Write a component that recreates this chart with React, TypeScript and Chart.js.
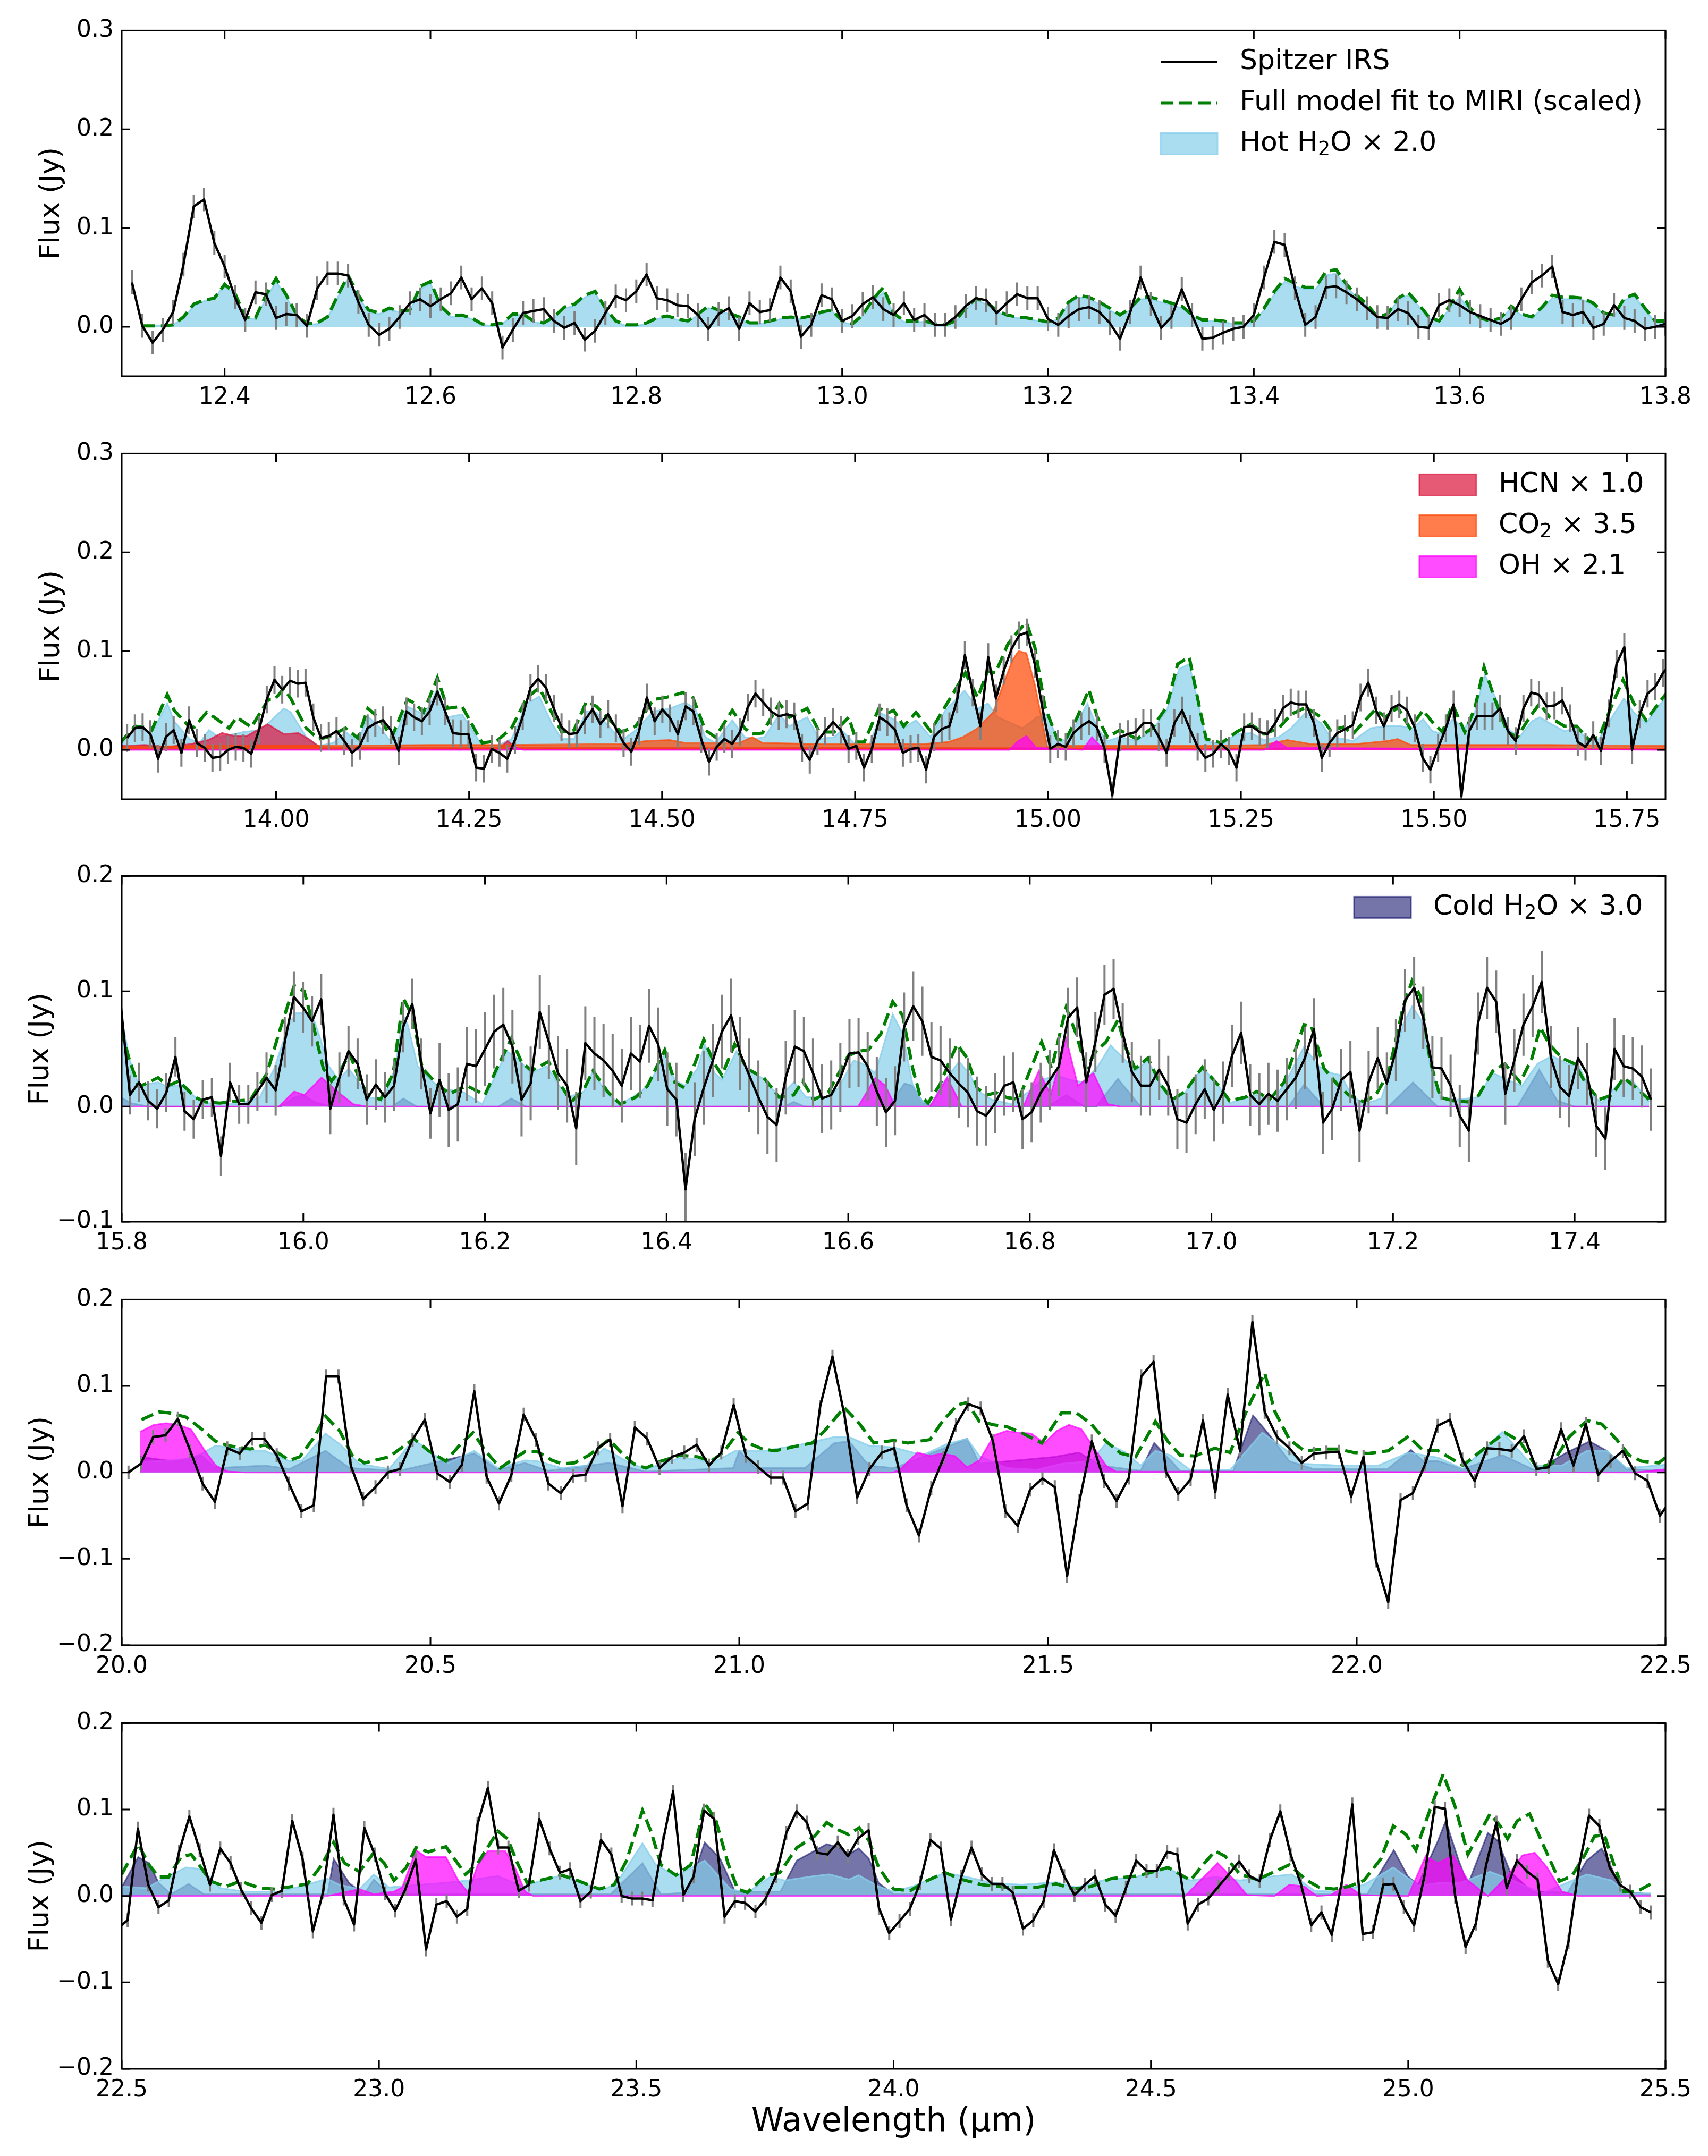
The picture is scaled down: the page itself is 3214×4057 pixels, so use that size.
import React, { useEffect, useRef } from "react";
import { Chart, registerables } from "chart.js";

Chart.register(...registerables);

const FONT = "'DejaVu Sans', 'Liberation Sans', sans-serif";

// ---------------- Panel 1 (12.3 - 13.8 um) ----------------
const IRS1_START = 12.31;
const IRS1_STEP = 0.01;
const IRS1_FLUX = [
  0.045, 0.001, -0.016, -0.003, 0.015, 0.063, 0.122, 0.129, 0.085, 0.061,
  0.030, 0.007, 0.035, 0.033, 0.009, 0.013, 0.012, 0.001, 0.039, 0.054,
  0.054, 0.052, 0.025, 0.002, -0.008, -0.002, 0.010, 0.024, 0.028, 0.021,
  0.028, 0.034, 0.050, 0.028, 0.039, 0.024, -0.021, -0.003, 0.014, 0.016,
  0.018, 0.006, -0.001, 0.004, -0.013, -0.004, 0.014, 0.031, 0.027, 0.036,
  0.053, 0.029, 0.027, 0.022, 0.021, 0.012, -0.002, 0.013, 0.019, -0.002,
  0.024, 0.015, 0.017, 0.050, 0.036, -0.010, 0.002, 0.032, 0.028, 0.006,
  0.011, 0.023, 0.030, 0.018, 0.012, 0.024, 0.007, 0.012, 0.002, 0.002,
  0.010, 0.021, 0.029, 0.027, 0.014, 0.024, 0.033, 0.029, 0.029, 0.008,
  0.002, 0.011, 0.018, 0.020, 0.015, 0.004, -0.012, 0.015, 0.050, 0.023,
  -0.001, 0.010, 0.038, 0.012, -0.012, -0.011, -0.006, -0.002, 0.000, 0.012,
  0.050, 0.086, 0.083, 0.039, 0.002, 0.010, 0.040, 0.041, 0.035, 0.028,
  0.019, 0.010, 0.009, 0.018, 0.014, 0.000, -0.001, 0.022, 0.027, 0.022,
  0.015, 0.011, 0.007, 0.003, 0.009, 0.028, 0.045, 0.052, 0.061, 0.015,
  0.012, 0.015, -0.001, 0.003, 0.022, 0.009, 0.006, -0.002, 0.000, 0.003,
];
const ERR1 = [[99, 0.012]];
const MODEL1_START = 12.32;
const MODEL1_STEP = 0.01;
const MODEL1_FLUX = [
  0.001, 0.001, 0.001, 0.002, 0.010, 0.023, 0.027, 0.029, 0.043, 0.034,
  0.010, 0.009, 0.032, 0.049, 0.032, 0.012, 0.003, 0.004, 0.010, 0.032,
  0.052, 0.032, 0.017, 0.014, 0.019, 0.016, 0.017, 0.041, 0.046, 0.021,
  0.011, 0.012, 0.009, 0.003, 0.002, 0.004, 0.013, 0.013, 0.006, 0.004,
  0.010, 0.020, 0.023, 0.032, 0.036, 0.019, 0.006, 0.002, 0.002, 0.004,
  0.009, 0.011, 0.008, 0.006, 0.013, 0.021, 0.017, 0.014, 0.010, 0.004,
  0.004, 0.006, 0.009, 0.010, 0.009, 0.011, 0.015, 0.017, 0.006, 0.003,
  0.012, 0.028, 0.040, 0.014, 0.006, 0.006, 0.006, 0.003, 0.002, 0.006,
  0.019, 0.029, 0.025, 0.017, 0.012, 0.010, 0.009, 0.007, 0.005, 0.009,
  0.025, 0.032, 0.030, 0.025, 0.019, 0.012, 0.019, 0.030, 0.030, 0.027,
  0.024, 0.021, 0.012, 0.007, 0.007, 0.006, 0.004, 0.004, 0.006, 0.019,
  0.036, 0.049, 0.044, 0.040, 0.040, 0.056, 0.058, 0.043, 0.032, 0.023,
  0.010, 0.013, 0.029, 0.035, 0.023, 0.010, 0.006, 0.021, 0.038, 0.019,
  0.009, 0.006, 0.009, 0.021, 0.013, 0.010, 0.020, 0.032, 0.030, 0.030,
  0.029, 0.024, 0.014, 0.012, 0.029, 0.033, 0.019, 0.006, 0.006,
];
const HOT1_FLUX = [
  0.001, 0.001, 0.001, 0.002, 0.009, 0.021, 0.026, 0.029, 0.042, 0.032,
  0.009, 0.008, 0.028, 0.046, 0.030, 0.011, 0.002, 0.003, 0.009, 0.030,
  0.049, 0.030, 0.015, 0.013, 0.017, 0.015, 0.016, 0.038, 0.044, 0.019,
  0.010, 0.011, 0.008, 0.002, 0.001, 0.003, 0.012, 0.012, 0.005, 0.003,
  0.009, 0.019, 0.021, 0.030, 0.034, 0.017, 0.005, 0.001, 0.001, 0.003,
  0.008, 0.010, 0.007, 0.005, 0.012, 0.019, 0.016, 0.013, 0.009, 0.003,
  0.003, 0.005, 0.008, 0.009, 0.008, 0.010, 0.014, 0.016, 0.005, 0.002,
  0.011, 0.026, 0.035, 0.013, 0.005, 0.005, 0.005, 0.002, 0.001, 0.005,
  0.017, 0.027, 0.023, 0.015, 0.011, 0.009, 0.008, 0.006, 0.004, 0.008,
  0.023, 0.030, 0.028, 0.023, 0.017, 0.011, 0.017, 0.028, 0.028, 0.025,
  0.022, 0.019, 0.011, 0.006, 0.006, 0.005, 0.003, 0.003, 0.005, 0.017,
  0.033, 0.046, 0.041, 0.038, 0.038, 0.052, 0.054, 0.040, 0.030, 0.021,
  0.009, 0.012, 0.027, 0.032, 0.021, 0.009, 0.005, 0.018, 0.030, 0.017,
  0.008, 0.005, 0.008, 0.019, 0.012, 0.009, 0.018, 0.029, 0.028, 0.028,
  0.027, 0.022, 0.013, 0.011, 0.027, 0.031, 0.017, 0.005, 0.005,
];

// ---------------- Panel 2 (13.8 - 15.8 um) ----------------
const IRS2_START = 13.807;
const IRS2_STEP = 0.01005;
const IRS2_FLUX = [
  0.012, 0.022, 0.023, 0.016, -0.009, 0.013, 0.020, -0.003, 0.030, 0.007,
  0.002, -0.008, -0.007, 0.000, 0.003, 0.002, -0.004, 0.020, 0.051, 0.071,
  0.061, 0.070, 0.067, 0.068, 0.033, 0.012, 0.014, 0.019, 0.009, -0.003,
  0.004, 0.022, 0.027, 0.030, 0.020, -0.001, 0.039, 0.033, 0.029, 0.039,
  0.059, 0.039, 0.017, 0.016, 0.016, -0.018, -0.019, 0.001, -0.003, -0.009,
  0.010, 0.034, 0.063, 0.072, 0.063, 0.042, 0.023, 0.016, 0.017, 0.030,
  0.041, 0.026, 0.036, 0.022, 0.007, -0.002, 0.019, 0.053, 0.029, 0.041,
  0.032, 0.016, 0.044, 0.039, 0.011, -0.012, 0.003, 0.011, 0.006, 0.018,
  0.043, 0.057, 0.048, 0.039, 0.034, 0.036, 0.034, 0.002, -0.010, 0.009,
  0.019, 0.028, 0.020, 0.001, 0.004, -0.018, 0.001, 0.033, 0.028, 0.020,
  -0.003, 0.001, 0.002, -0.020, 0.013, 0.021, 0.024, 0.051, 0.096, 0.058,
  0.024, 0.094, 0.052, 0.080, 0.102, 0.116, 0.119, 0.087, 0.042, 0.001,
  0.006, 0.003, 0.017, 0.024, 0.029, 0.023, 0.001, -0.046, 0.013, 0.016,
  0.018, 0.027, 0.027, 0.013, -0.003, 0.027, 0.040, 0.021, 0.003, -0.008,
  -0.004, 0.006, -0.001, -0.018, 0.023, 0.024, 0.018, 0.016, 0.027, 0.042,
  0.048, 0.046, 0.046, 0.027, -0.008, 0.007, 0.017, 0.021, 0.025, 0.053,
  0.068, 0.040, 0.024, 0.042, 0.046, 0.040, 0.022, -0.008, -0.020, 0.002,
  0.022, 0.046, -0.047, 0.019, 0.034, 0.034, 0.034, 0.042, 0.019, 0.009,
  0.042, 0.058, 0.056, 0.044, 0.045, 0.050, 0.032, 0.008, 0.003, 0.015,
  -0.001, 0.037, 0.087, 0.104, 0.000, 0.036, 0.057, 0.064, 0.078, 0.087,
];
const ERR2 = [[99, 0.014]];
const MODEL2 = [
  [13.798, 0.007], [13.817, 0.024], [13.828, 0.023], [13.839, 0.020], [13.859, 0.056], [13.868, 0.040],
  [13.888, 0.023], [13.894, 0.023], [13.910, 0.038], [13.920, 0.033], [13.939, 0.022], [13.949, 0.033],
  [13.968, 0.023], [13.990, 0.051], [13.998, 0.051], [14.010, 0.062], [14.019, 0.052], [14.039, 0.022],
  [14.055, 0.011], [14.068, 0.013], [14.090, 0.022], [14.106, 0.012], [14.119, 0.042], [14.132, 0.033],
  [14.150, 0.013], [14.170, 0.051], [14.180, 0.047], [14.191, 0.038], [14.209, 0.073], [14.222, 0.042],
  [14.241, 0.044], [14.248, 0.034], [14.267, 0.007], [14.286, 0.009], [14.305, 0.022], [14.325, 0.053],
  [14.341, 0.063], [14.357, 0.038], [14.370, 0.018], [14.386, 0.020], [14.402, 0.049], [14.415, 0.044],
  [14.431, 0.031], [14.447, 0.018], [14.466, 0.024], [14.489, 0.051], [14.505, 0.053], [14.527, 0.058],
  [14.540, 0.053], [14.556, 0.020], [14.569, 0.013], [14.591, 0.040], [14.607, 0.022], [14.617, 0.016],
  [14.630, 0.017], [14.652, 0.047], [14.665, 0.033], [14.688, 0.042], [14.704, 0.018], [14.723, 0.018],
  [14.742, 0.033], [14.752, 0.008], [14.762, 0.008], [14.781, 0.042], [14.794, 0.038], [14.800, 0.040],
  [14.813, 0.024], [14.829, 0.038], [14.848, 0.019], [14.867, 0.044], [14.893, 0.078], [14.909, 0.053],
  [14.922, 0.080], [14.932, 0.078], [14.948, 0.107], [14.961, 0.120], [14.972, 0.129], [14.983, 0.104],
  [14.996, 0.044], [15.012, 0.011], [15.022, 0.009], [15.038, 0.033], [15.053, 0.061], [15.064, 0.033],
  [15.077, 0.013], [15.093, 0.020], [15.115, 0.011], [15.135, 0.022], [15.154, 0.044], [15.168, 0.087],
  [15.183, 0.094], [15.196, 0.044], [15.205, 0.011], [15.225, 0.007], [15.244, 0.018], [15.263, 0.026],
  [15.280, 0.016], [15.299, 0.022], [15.315, 0.036], [15.334, 0.043], [15.354, 0.033], [15.366, 0.020],
  [15.383, 0.023], [15.395, 0.016], [15.424, 0.041], [15.437, 0.033], [15.453, 0.043], [15.469, 0.022],
  [15.486, 0.040], [15.498, 0.028], [15.511, 0.018], [15.524, 0.046], [15.540, 0.018], [15.553, 0.042],
  [15.565, 0.084], [15.579, 0.051], [15.595, 0.018], [15.608, 0.013], [15.624, 0.033], [15.637, 0.047],
  [15.650, 0.033], [15.669, 0.024], [15.685, 0.024], [15.701, 0.010], [15.714, 0.013], [15.730, 0.044],
  [15.745, 0.071], [15.759, 0.047], [15.775, 0.030], [15.791, 0.047], [15.804, 0.060],
];
const HOT2 = [
  [13.798, 0.007], [13.817, 0.021], [13.828, 0.020], [13.839, 0.017], [13.859, 0.047], [13.868, 0.029],
  [13.888, 0.011], [13.901, 0.007], [13.913, 0.020], [13.926, 0.013], [13.946, 0.016], [13.958, 0.018],
  [13.978, 0.020], [13.990, 0.027], [14.010, 0.042], [14.019, 0.038], [14.039, 0.013], [14.055, 0.004],
  [14.074, 0.007], [14.090, 0.018], [14.106, 0.009], [14.119, 0.034], [14.135, 0.022], [14.150, 0.007],
  [14.170, 0.044], [14.183, 0.039], [14.193, 0.036], [14.209, 0.062], [14.222, 0.033], [14.241, 0.036],
  [14.254, 0.020], [14.267, 0.004], [14.286, 0.004], [14.305, 0.011], [14.325, 0.047], [14.341, 0.054],
  [14.357, 0.027], [14.370, 0.011], [14.386, 0.011], [14.402, 0.039], [14.415, 0.038], [14.431, 0.024],
  [14.447, 0.009], [14.466, 0.020], [14.489, 0.039], [14.511, 0.042], [14.530, 0.048], [14.543, 0.042],
  [14.556, 0.013], [14.569, 0.007], [14.591, 0.030], [14.607, 0.013], [14.620, 0.011], [14.633, 0.013],
  [14.652, 0.036], [14.665, 0.024], [14.688, 0.033], [14.704, 0.011], [14.723, 0.013], [14.733, 0.020],
  [14.752, 0.004], [14.768, 0.004], [14.784, 0.037], [14.800, 0.031], [14.813, 0.022], [14.829, 0.030],
  [14.848, 0.013], [14.867, 0.040], [14.892, 0.060], [14.909, 0.042], [14.922, 0.047], [14.935, 0.033],
  [14.967, 0.022], [14.986, 0.033], [14.999, 0.036], [15.012, 0.011], [15.025, 0.009], [15.051, 0.047],
  [15.064, 0.022], [15.077, 0.009], [15.093, 0.013], [15.115, 0.009], [15.135, 0.020], [15.154, 0.040],
  [15.170, 0.082], [15.183, 0.087], [15.196, 0.042], [15.205, 0.009], [15.225, 0.005], [15.244, 0.016],
  [15.263, 0.017], [15.280, 0.010], [15.299, 0.013], [15.315, 0.022], [15.334, 0.038], [15.354, 0.027],
  [15.366, 0.013], [15.383, 0.011], [15.395, 0.009], [15.418, 0.022], [15.437, 0.024], [15.457, 0.024],
  [15.473, 0.022], [15.486, 0.031], [15.498, 0.019], [15.511, 0.016], [15.524, 0.031], [15.540, 0.022],
  [15.553, 0.038], [15.566, 0.076], [15.579, 0.054], [15.598, 0.020], [15.611, 0.013], [15.627, 0.029],
  [15.637, 0.033], [15.650, 0.027], [15.669, 0.019], [15.685, 0.022], [15.701, 0.009], [15.714, 0.011],
  [15.733, 0.036], [15.746, 0.052], [15.759, 0.038], [15.775, 0.027], [15.791, 0.044], [15.804, 0.056],
];
const HCN2 = [
  [13.798, 0.004], [13.83, 0.005], [13.86, 0.003], [13.89, 0.006], [13.912, 0.010], [13.93, 0.017],
  [13.946, 0.014], [13.962, 0.014], [13.989, 0.026], [14.010, 0.016], [14.029, 0.017], [14.042, 0.011],
  [14.058, 0.002], [14.29, 0.002], [14.30, 0.009], [14.31, 0.002], [14.6, 0.002], [15.8, 0.001],
];
const CO2_2 = [
  [13.798, 0.003], [13.90, 0.004], [14.05, 0.004], [14.2, 0.005], [14.3, 0.005], [14.45, 0.006],
  [14.48, 0.009], [14.51, 0.010], [14.53, 0.007], [14.60, 0.007], [14.617, 0.013], [14.63, 0.007],
  [14.70, 0.006], [14.80, 0.006], [14.839, 0.006], [14.871, 0.008], [14.89, 0.013], [14.909, 0.022],
  [14.929, 0.038], [14.941, 0.064], [14.954, 0.091], [14.962, 0.100], [14.972, 0.098], [14.983, 0.066],
  [14.993, 0.027], [14.999, 0.003], [15.02, 0.004], [15.10, 0.004], [15.20, 0.004], [15.28, 0.005],
  [15.31, 0.010], [15.34, 0.006], [15.40, 0.006], [15.44, 0.009], [15.453, 0.011], [15.47, 0.005],
  [15.55, 0.005], [15.65, 0.005], [15.80, 0.004],
];
const OH2 = [
  [13.798, 0.0], [14.30, 0.0], [14.305, 0.003], [14.32, 0.0], [14.95, 0.0], [14.960, 0.008],
  [14.972, 0.014], [14.985, 0.002], [15.045, 0.0], [15.057, 0.013], [15.072, 0.0], [15.28, 0.0],
  [15.296, 0.009], [15.31, 0.002], [15.8, 0.0],
];

// ---------------- Panel 3 (15.8 - 17.5 um) ----------------
const IRS3_START = 15.799;
const IRS3_STEP = 0.01003;
const IRS3_FLUX = [
  0.088, 0.010, 0.021, 0.005, -0.002, 0.012, 0.043, -0.004, -0.011, 0.006,
  0.008, -0.043, 0.021, 0.002, 0.002, 0.013, 0.025, 0.014, 0.056, 0.095,
  0.086, 0.074, 0.093, -0.002, 0.025, 0.048, 0.037, 0.006, 0.019, 0.008,
  0.018, 0.069, 0.089, 0.037, -0.006, 0.023, -0.003, 0.002, 0.037, 0.035,
  0.050, 0.065, 0.071, 0.052, 0.006, 0.020, 0.082, 0.056, 0.029, 0.018,
  -0.019, 0.055, 0.046, 0.040, 0.031, 0.018, 0.046, 0.039, 0.070, 0.054,
  0.015, 0.006, -0.072, -0.011, 0.016, 0.040, 0.065, 0.079, 0.046, 0.027,
  0.008, -0.009, -0.016, 0.025, 0.052, 0.048, 0.029, 0.007, 0.010, 0.025,
  0.046, 0.047, 0.035, 0.013, -0.005, 0.005,
  0.069, 0.087, 0.074, 0.043, 0.040, 0.029, 0.020, 0.012, -0.004, -0.008,
  0.003, 0.018, 0.021, -0.011, -0.005, 0.012, 0.023, 0.035, 0.077, 0.086,
  0.021, 0.056, 0.097, 0.102, 0.064, 0.030, 0.018, 0.018, 0.032, 0.018,
  -0.011, -0.014, 0.002, 0.015, -0.003, 0.012, 0.044, 0.064, 0.010, 0.002,
  0.011, 0.005, 0.015, 0.025, 0.042, 0.067, -0.014, -0.002, 0.023, 0.030,
  -0.021, 0.021, 0.042, 0.020, 0.049, 0.092, 0.103, 0.077, 0.034, 0.033,
  0.018, -0.008, -0.021, 0.072, 0.103, 0.091, 0.011, 0.040, 0.071, 0.087,
  0.108, 0.043, 0.017, 0.009, 0.042, 0.028, -0.017, -0.028, 0.050, 0.035,
  0.033, 0.026, 0.006,
];
const ERR3 = [[15.95, 0.017], [16.15, 0.022], [16.55, 0.032], [16.75, 0.03], [17.0, 0.026], [99, 0.027]];
const MODEL3 = [
  [15.799, 0.067], [15.809, 0.039], [15.819, 0.017], [15.840, 0.025], [15.851, 0.018], [15.863, 0.022],
  [15.881, 0.008], [15.892, 0.004], [15.908, 0.003], [15.930, 0.005], [15.942, 0.006], [15.960, 0.029],
  [15.976, 0.071], [15.990, 0.105], [16.001, 0.100], [16.012, 0.067], [16.022, 0.033], [16.031, 0.022],
  [16.042, 0.033], [16.051, 0.046], [16.061, 0.025], [16.071, 0.010], [16.085, 0.006], [16.099, 0.029],
  [16.110, 0.094], [16.121, 0.077], [16.131, 0.033], [16.148, 0.019], [16.161, 0.011], [16.180, 0.018],
  [16.200, 0.010], [16.213, 0.033], [16.229, 0.059], [16.240, 0.039], [16.251, 0.031], [16.270, 0.039],
  [16.284, 0.018], [16.295, 0.004], [16.309, 0.015], [16.319, 0.031], [16.336, 0.012], [16.349, 0.002],
  [16.366, 0.008], [16.379, 0.018], [16.398, 0.049], [16.409, 0.021], [16.420, 0.016], [16.431, 0.037],
  [16.441, 0.058], [16.453, 0.037], [16.461, 0.027], [16.475, 0.054], [16.488, 0.033], [16.507, 0.025],
  [16.524, 0.008], [16.540, 0.010], [16.550, 0.022], [16.562, 0.006], [16.578, 0.012], [16.600, 0.044],
  [16.611, 0.048], [16.622, 0.049], [16.636, 0.063], [16.649, 0.091], [16.660, 0.079], [16.671, 0.033],
  [16.679, 0.010], [16.688, 0.003], [16.701, 0.019], [16.712, 0.040], [16.720, 0.054], [16.731, 0.042],
  [16.742, 0.016], [16.753, 0.010], [16.763, 0.012], [16.774, 0.008], [16.788, 0.006], [16.799, 0.029],
  [16.813, 0.056], [16.824, 0.033], [16.840, 0.086], [16.851, 0.063], [16.862, 0.033], [16.873, 0.048],
  [16.884, 0.056], [16.897, 0.075], [16.905, 0.052], [16.916, 0.033], [16.930, 0.042], [16.944, 0.019],
  [16.957, 0.006], [16.971, 0.013], [16.990, 0.034], [17.007, 0.019], [17.020, 0.005], [17.037, 0.008],
  [17.050, 0.013], [17.064, 0.006], [17.080, 0.021], [17.102, 0.071], [17.110, 0.070], [17.124, 0.033],
  [17.140, 0.018], [17.151, 0.010], [17.168, 0.004], [17.181, 0.010], [17.195, 0.029], [17.211, 0.086],
  [17.221, 0.109], [17.230, 0.096], [17.241, 0.039], [17.252, 0.008], [17.266, 0.005], [17.282, 0.004],
  [17.293, 0.008], [17.310, 0.031], [17.323, 0.037], [17.340, 0.021], [17.353, 0.042], [17.362, 0.069],
  [17.372, 0.054], [17.386, 0.042], [17.400, 0.037], [17.413, 0.019], [17.427, 0.006], [17.441, 0.010],
  [17.454, 0.025], [17.468, 0.016], [17.482, 0.006],
];
const HOT3 = [
  [15.799, 0.080], [15.809, 0.040], [15.819, 0.018], [15.840, 0.021], [15.851, 0.017], [15.867, 0.019],
  [15.881, 0.008], [15.892, 0.003], [15.930, 0.002], [15.952, 0.008], [15.968, 0.033], [15.984, 0.071],
  [15.992, 0.081], [16.009, 0.081], [16.017, 0.063], [16.028, 0.035], [16.039, 0.023], [16.050, 0.033],
  [16.061, 0.021], [16.071, 0.008], [16.088, 0.006], [16.101, 0.033], [16.110, 0.079], [16.115, 0.071],
  [16.126, 0.035], [16.140, 0.023], [16.153, 0.015], [16.175, 0.013], [16.197, 0.002], [16.213, 0.029],
  [16.224, 0.048], [16.235, 0.042], [16.251, 0.029], [16.268, 0.035], [16.281, 0.019], [16.292, 0.008],
  [16.309, 0.013], [16.319, 0.031], [16.333, 0.012], [16.349, 0.002], [16.371, 0.012], [16.382, 0.021],
  [16.398, 0.046], [16.409, 0.023], [16.420, 0.018], [16.434, 0.033], [16.442, 0.054], [16.453, 0.029],
  [16.461, 0.023], [16.477, 0.048], [16.491, 0.031], [16.507, 0.024], [16.524, 0.008], [16.540, 0.021],
  [16.554, 0.008], [16.578, 0.008], [16.589, 0.016], [16.606, 0.040], [16.616, 0.037], [16.630, 0.029],
  [16.649, 0.080], [16.660, 0.063], [16.671, 0.019], [16.682, 0.004], [16.692, 0.002], [16.703, 0.019],
  [16.722, 0.039], [16.733, 0.029], [16.744, 0.013], [16.758, 0.006], [16.780, 0.002], [16.799, 0.013],
  [16.813, 0.023], [16.829, 0.027], [16.845, 0.023], [16.859, 0.021], [16.875, 0.035], [16.889, 0.053],
  [16.903, 0.042], [16.916, 0.031], [16.930, 0.040], [16.944, 0.019], [16.957, 0.004], [16.971, 0.012],
  [16.990, 0.034], [17.007, 0.019], [17.020, 0.003], [17.050, 0.010], [17.067, 0.004], [17.083, 0.023],
  [17.102, 0.052], [17.118, 0.035], [17.132, 0.029], [17.143, 0.027], [17.154, 0.010], [17.168, 0.002],
  [17.187, 0.007], [17.200, 0.037], [17.211, 0.071], [17.221, 0.087], [17.231, 0.075], [17.241, 0.035],
  [17.252, 0.008], [17.271, 0.006], [17.293, 0.008], [17.310, 0.029], [17.326, 0.023], [17.342, 0.018],
  [17.359, 0.037], [17.375, 0.044], [17.392, 0.037], [17.405, 0.035], [17.419, 0.010], [17.430, 0.003],
  [17.446, 0.018], [17.463, 0.023], [17.474, 0.012], [17.482, 0.004],
];
const COLD3 = [
  [15.799, 0.008], [15.81, 0.003], [15.83, 0.0], [15.975, 0.0], [15.99, 0.008], [16.00, 0.010],
  [16.012, 0.004], [16.03, 0.0], [16.098, 0.0], [16.110, 0.007], [16.125, 0.0], [16.215, 0.0],
  [16.229, 0.007], [16.245, 0.0], [16.53, 0.0], [16.540, 0.004], [16.552, 0.0], [16.645, 0.0],
  [16.662, 0.020], [16.671, 0.018], [16.682, 0.004], [16.692, 0.0], [16.82, 0.0], [16.84, 0.010],
  [16.86, 0.0], [16.873, 0.0], [16.897, 0.024], [16.922, 0.0], [17.085, 0.0], [17.102, 0.019],
  [17.124, 0.0], [17.195, 0.0], [17.222, 0.021], [17.249, 0.0], [17.337, 0.0], [17.361, 0.032],
  [17.381, 0.005], [17.40, 0.0], [17.482, 0.0],
];
const OH3 = [
  [15.799, 0.0], [15.973, 0.0], [15.990, 0.013], [16.001, 0.010], [16.020, 0.025], [16.039, 0.012],
  [16.055, 0.002], [16.07, 0.0], [16.611, 0.0], [16.630, 0.025], [16.641, 0.018], [16.652, 0.0],
  [16.690, 0.0], [16.709, 0.025], [16.725, 0.0], [16.793, 0.0], [16.810, 0.031], [16.823, 0.010],
  [16.840, 0.059], [16.853, 0.018], [16.870, 0.029], [16.886, 0.002], [16.90, 0.0], [17.482, 0.0],
];

// ---------------- Panel 4 (20.0 - 22.5 um) ----------------
const IRS4_START = 20.011;
const IRS4_STEP = 0.02;
const IRS4_FLUX = [
  0.000, 0.010, 0.041, 0.043, 0.062, 0.025, -0.013, -0.034, 0.028, 0.022,
  0.039, 0.039, 0.020, -0.013, -0.045, -0.038, 0.111, 0.111, 0.008, -0.031,
  -0.017, 0.000, 0.004, 0.038, 0.061, -0.001, -0.011, 0.009, 0.094, -0.005,
  -0.036, -0.003, 0.067, 0.038, -0.013, -0.024, -0.004, -0.003, 0.028, 0.038,
  -0.039, 0.052, 0.039, 0.005, 0.018, 0.023, 0.032, 0.008, 0.023, 0.078,
  0.019, 0.006, -0.006, -0.006, -0.045, -0.036, 0.076, 0.134, 0.064, -0.029,
  0.004, 0.023, 0.028,
  -0.038, -0.073, -0.018, 0.017, 0.055, 0.079, 0.074, 0.036, -0.045, -0.062,
  -0.020, -0.007, -0.017, -0.120, -0.033, 0.036, -0.010, -0.033, -0.006, 0.111,
  0.128, 0.001, -0.025, -0.008, 0.060, -0.023, 0.090, 0.025, 0.174, 0.070,
  0.041, 0.028, 0.011, 0.022, 0.023, 0.024, -0.028, 0.018, -0.102, -0.150,
  -0.032, -0.024, 0.010, 0.054, 0.061, 0.015, -0.010, 0.028, 0.027, 0.025,
  0.042, 0.004, 0.006, 0.050, 0.008, 0.056, -0.003, 0.013, 0.025, -0.001,
  -0.010, -0.050, -0.030,
];
const ERR4 = [[99, 0.008]];
const MODEL4 = [
  [20.032, 0.061], [20.060, 0.070], [20.076, 0.069], [20.104, 0.064], [20.128, 0.051], [20.152, 0.036],
  [20.172, 0.031], [20.208, 0.027], [20.232, 0.032], [20.272, 0.014], [20.288, 0.018], [20.312, 0.041],
  [20.330, 0.065], [20.353, 0.048], [20.373, 0.020], [20.393, 0.011], [20.433, 0.018], [20.473, 0.039],
  [20.497, 0.025], [20.525, 0.013], [20.549, 0.033], [20.569, 0.046], [20.589, 0.025], [20.613, 0.005],
  [20.633, 0.015], [20.653, 0.024], [20.673, 0.024], [20.697, 0.014], [20.713, 0.010], [20.733, 0.011],
  [20.757, 0.020], [20.789, 0.038], [20.809, 0.023], [20.829, 0.010], [20.849, 0.005], [20.873, 0.013],
  [20.905, 0.020], [20.933, 0.018], [20.954, 0.013], [20.974, 0.023], [20.998, 0.046], [21.018, 0.033],
  [21.038, 0.027], [21.058, 0.025], [21.090, 0.030], [21.118, 0.034], [21.138, 0.048], [21.170, 0.075],
  [21.194, 0.057], [21.218, 0.034], [21.250, 0.037], [21.273, 0.034], [21.309, 0.038], [21.329, 0.059],
  [21.353, 0.078], [21.369, 0.081], [21.389, 0.059], [21.413, 0.055], [21.433, 0.053], [21.457, 0.046],
  [21.490, 0.034], [21.522, 0.069], [21.546, 0.069], [21.570, 0.056], [21.594, 0.036], [21.618, 0.022],
  [21.642, 0.018], [21.674, 0.059], [21.694, 0.036], [21.714, 0.020], [21.738, 0.019], [21.770, 0.028],
  [21.795, 0.023], [21.823, 0.074], [21.851, 0.115], [21.867, 0.071], [21.891, 0.038], [21.915, 0.025],
  [21.947, 0.027], [21.971, 0.027], [21.995, 0.023], [22.019, 0.022], [22.051, 0.025], [22.084, 0.042],
  [22.108, 0.025], [22.132, 0.025], [22.172, 0.008], [22.212, 0.031], [22.240, 0.046], [22.264, 0.036],
  [22.292, 0.005], [22.316, 0.010], [22.344, 0.041], [22.373, 0.060], [22.397, 0.056], [22.421, 0.038],
  [22.441, 0.020], [22.461, 0.013], [22.489, 0.011], [22.505, 0.020],
];
const HOT4 = [
  [20.030, 0.012], [20.08, 0.014], [20.11, 0.016], [20.13, 0.022], [20.152, 0.031], [20.172, 0.029],
  [20.208, 0.025], [20.232, 0.025], [20.272, 0.013], [20.292, 0.014], [20.330, 0.045], [20.353, 0.033],
  [20.385, 0.010], [20.433, 0.004], [20.473, 0.038], [20.513, 0.017], [20.529, 0.011], [20.571, 0.025],
  [20.609, 0.005], [20.653, 0.014], [20.673, 0.013], [20.713, 0.005], [20.753, 0.008], [20.781, 0.028],
  [20.825, 0.010], [20.849, 0.004], [20.905, 0.017], [20.933, 0.015], [20.954, 0.010], [20.994, 0.025],
  [21.042, 0.025], [21.098, 0.032], [21.154, 0.041], [21.178, 0.041], [21.210, 0.031], [21.250, 0.029],
  [21.297, 0.020], [21.337, 0.033], [21.369, 0.039], [21.389, 0.019], [21.433, 0.005], [21.482, 0.003],
  [21.522, 0.010], [21.570, 0.013], [21.594, 0.034], [21.626, 0.023], [21.650, 0.008], [21.674, 0.025],
  [21.698, 0.020], [21.730, 0.003], [21.795, 0.003], [21.847, 0.046], [21.891, 0.023], [21.915, 0.010],
  [21.971, 0.008], [22.035, 0.008], [22.084, 0.023], [22.132, 0.017], [22.172, 0.004], [22.236, 0.047],
  [22.284, 0.008], [22.332, 0.008], [22.373, 0.025], [22.405, 0.025], [22.437, 0.005], [22.501, 0.009],
];
const COLD4 = [
  [20.030, 0.018], [20.072, 0.014], [20.092, 0.013], [20.128, 0.020], [20.152, 0.005], [20.232, 0.008],
  [20.272, 0.004], [20.330, 0.025], [20.369, 0.005], [20.45, 0.002], [20.571, 0.022], [20.609, 0.003],
  [20.653, 0.011], [20.69, 0.002], [20.789, 0.011], [20.849, 0.001], [20.99, 0.005], [21.000, 0.025],
  [21.026, 0.005], [21.106, 0.005], [21.154, 0.034], [21.178, 0.036], [21.210, 0.008], [21.250, 0.005],
  [21.297, 0.018], [21.369, 0.039], [21.389, 0.010], [21.51, 0.018], [21.55, 0.023], [21.585, 0.008],
  [21.650, 0.002], [21.672, 0.034], [21.714, 0.002], [21.80, 0.002], [21.832, 0.066], [21.859, 0.043],
  [21.891, 0.013], [21.93, 0.004], [22.05, 0.004], [22.088, 0.026], [22.108, 0.013], [22.132, 0.013],
  [22.172, 0.004], [22.236, 0.020], [22.29, 0.002], [22.340, 0.023], [22.377, 0.036], [22.405, 0.025],
  [22.437, 0.004], [22.505, 0.002],
];
const OH4 = [
  [20.030, 0.047], [20.052, 0.055], [20.072, 0.057], [20.092, 0.055], [20.112, 0.050], [20.132, 0.028],
  [20.152, 0.008], [20.172, 0.001], [20.2, 0.0], [21.249, 0.0], [21.26, 0.003], [21.289, 0.023],
  [21.309, 0.019], [21.329, 0.022], [21.349, 0.019], [21.369, 0.006], [21.389, 0.014], [21.413, 0.043],
  [21.433, 0.048], [21.453, 0.046], [21.473, 0.045], [21.494, 0.034], [21.514, 0.048], [21.534, 0.055],
  [21.554, 0.050], [21.570, 0.033], [21.594, 0.008], [21.610, 0.001], [22.45, 0.0], [22.505, 0.004],
];

// ---------------- Panel 5 (22.5 - 25.5 um) ----------------
const IRS5_START = 22.4915;
const IRS5_STEP = 0.02;
const IRS5_FLUX = [
  -0.038,
  -0.028, 0.078, 0.013, -0.013, -0.005, 0.051, 0.092, 0.053, 0.013, 0.055,
  0.038, 0.008, -0.014, -0.031, 0.001, 0.006, 0.087, 0.043, -0.041, 0.005,
  0.094, -0.003, -0.033, 0.079, 0.048, 0.003, -0.017, 0.008, 0.042, -0.062,
  -0.010, -0.006, -0.024, -0.015, 0.083, 0.125, 0.056, 0.056, 0.006, 0.013,
  0.089, 0.055, 0.027, 0.031, -0.006, 0.005, 0.065, 0.048, 0.000, -0.003,
  -0.003, -0.005, 0.062, 0.121, 0.001, 0.023, 0.099, 0.089, -0.024, -0.006,
  -0.008, -0.018, -0.003, 0.023, 0.073, 0.098, 0.085, 0.050, 0.048, 0.062,
  0.046, 0.067, 0.076, -0.014, -0.043,
  -0.029, -0.015, 0.015, 0.065, 0.055, -0.027, 0.022, 0.056, 0.025, 0.014,
  0.014, 0.004, -0.038, -0.028, -0.006, 0.053, 0.023, 0.001, 0.013, 0.023,
  -0.010, -0.023, 0.009, 0.041, 0.029, 0.029, 0.051, 0.048, -0.032, -0.010,
  -0.003, 0.011, 0.025, 0.040, 0.023, 0.017, 0.065, 0.098, 0.048, 0.014,
  -0.034, -0.019, -0.045, 0.018, 0.106, -0.044, -0.042, 0.013, 0.014, -0.013,
  -0.034, 0.023, 0.103, 0.101, -0.001, -0.059, -0.032, 0.036, 0.085, 0.009,
  0.041, 0.028, 0.019, -0.075, -0.102, -0.053, 0.032, 0.093, 0.081, 0.033,
  0.013, 0.005, -0.013, -0.019,
];
const ERR5 = [[99, 0.008]];
const MODEL5 = [
  [22.500, 0.025], [22.532, 0.060], [22.553, 0.036], [22.572, 0.022], [22.591, 0.022], [22.615, 0.045],
  [22.635, 0.048], [22.654, 0.033], [22.673, 0.017], [22.702, 0.011], [22.731, 0.017], [22.769, 0.009],
  [22.798, 0.008], [22.832, 0.011], [22.861, 0.014], [22.889, 0.036], [22.912, 0.062], [22.933, 0.038],
  [22.962, 0.028], [22.990, 0.050], [23.010, 0.038], [23.029, 0.018], [23.053, 0.033], [23.072, 0.056],
  [23.096, 0.051], [23.130, 0.057], [23.149, 0.041], [23.168, 0.025], [23.192, 0.038], [23.231, 0.075],
  [23.250, 0.066], [23.269, 0.038], [23.288, 0.015], [23.327, 0.020], [23.356, 0.024], [23.385, 0.018],
  [23.428, 0.008], [23.457, 0.013], [23.481, 0.041], [23.512, 0.099], [23.529, 0.074], [23.548, 0.036],
  [23.577, 0.024], [23.606, 0.036], [23.633, 0.107], [23.654, 0.089], [23.678, 0.038], [23.697, 0.008],
  [23.716, 0.004], [23.750, 0.023], [23.779, 0.027], [23.812, 0.056], [23.846, 0.069], [23.870, 0.085],
  [23.894, 0.076], [23.913, 0.071], [23.933, 0.079], [23.952, 0.064], [23.971, 0.033], [24.000, 0.008],
  [24.032, 0.006], [24.066, 0.018], [24.100, 0.027], [24.133, 0.019], [24.172, 0.013], [24.220, 0.010],
  [24.278, 0.010], [24.316, 0.014], [24.350, 0.008], [24.384, 0.011], [24.422, 0.020], [24.471, 0.023],
  [24.499, 0.027], [24.533, 0.033], [24.557, 0.025], [24.577, 0.018], [24.601, 0.036], [24.625, 0.052],
  [24.644, 0.046], [24.673, 0.025], [24.707, 0.019], [24.740, 0.028], [24.769, 0.036], [24.803, 0.018],
  [24.827, 0.010], [24.856, 0.008], [24.885, 0.011], [24.914, 0.018], [24.947, 0.043], [24.971, 0.081],
  [24.996, 0.071], [25.015, 0.053], [25.039, 0.094], [25.068, 0.141], [25.092, 0.102], [25.116, 0.048],
  [25.140, 0.074], [25.159, 0.095], [25.179, 0.081], [25.193, 0.066], [25.212, 0.087], [25.236, 0.095],
  [25.261, 0.061], [25.294, 0.017], [25.318, 0.023], [25.342, 0.046], [25.362, 0.069], [25.381, 0.071],
  [25.400, 0.036], [25.419, 0.005], [25.444, 0.005], [25.472, 0.014],
];
const HOT5 = [
  [22.500, 0.011], [22.548, 0.009], [22.587, 0.022], [22.625, 0.033], [22.654, 0.031], [22.692, 0.009],
  [22.740, 0.005], [22.808, 0.005], [22.865, 0.014], [22.899, 0.020], [22.923, 0.013], [22.962, 0.008],
  [22.990, 0.025], [23.019, 0.010], [23.058, 0.012], [23.125, 0.015], [23.173, 0.018], [23.231, 0.023],
  [23.279, 0.011], [23.317, 0.018], [23.356, 0.024], [23.394, 0.015], [23.433, 0.006], [23.462, 0.015],
  [23.512, 0.061], [23.538, 0.036], [23.577, 0.023], [23.633, 0.041], [23.683, 0.008], [23.716, 0.004],
  [23.760, 0.022], [23.788, 0.018], [23.846, 0.023], [23.875, 0.025], [23.913, 0.019], [23.932, 0.024],
  [23.971, 0.011], [24.000, 0.005], [24.037, 0.011], [24.100, 0.027], [24.143, 0.022], [24.191, 0.015],
  [24.249, 0.013], [24.316, 0.016], [24.355, 0.010], [24.413, 0.019], [24.471, 0.022], [24.531, 0.033],
  [24.577, 0.018], [24.625, 0.022], [24.673, 0.018], [24.740, 0.023], [24.774, 0.025], [24.818, 0.006],
  [24.866, 0.005], [24.914, 0.013], [24.971, 0.033], [25.020, 0.012], [25.060, 0.015], [25.100, 0.015],
  [25.159, 0.028], [25.203, 0.018], [25.260, 0.003], [25.347, 0.025], [25.395, 0.018], [25.425, 0.003],
  [25.472, 0.003],
];
const COLD5 = [
  [22.500, 0.010], [22.532, 0.045], [22.553, 0.038], [22.572, 0.015], [22.596, 0.002], [22.630, 0.014],
  [22.660, 0.002], [22.90, 0.002], [22.912, 0.043], [22.942, 0.015], [22.971, 0.002], [22.990, 0.019],
  [23.019, 0.002], [23.45, 0.002], [23.512, 0.038], [23.548, 0.002], [23.60, 0.004], [23.633, 0.062],
  [23.663, 0.043], [23.692, 0.005], [23.78, 0.005], [23.812, 0.041], [23.846, 0.052], [23.870, 0.060],
  [23.894, 0.056], [23.913, 0.048], [23.932, 0.055], [23.952, 0.043], [23.971, 0.015], [24.000, 0.002],
  [24.92, 0.002], [24.972, 0.053], [24.999, 0.023], [25.019, 0.013], [25.058, 0.064], [25.073, 0.087],
  [25.097, 0.043], [25.116, 0.013], [25.155, 0.073], [25.174, 0.064], [25.198, 0.028], [25.241, 0.005],
  [25.31, 0.004], [25.347, 0.041], [25.376, 0.055], [25.395, 0.033], [25.415, 0.005], [25.472, 0.002],
];
const OH5 = [
  [22.500, 0.0], [22.90, 0.0], [22.962, 0.008], [22.990, 0.002], [23.029, 0.005], [23.045, 0.010],
  [23.072, 0.053], [23.091, 0.045], [23.130, 0.045], [23.154, 0.018], [23.173, 0.004], [23.192, 0.036],
  [23.212, 0.052], [23.245, 0.052], [23.264, 0.033], [23.284, 0.005], [23.30, 0.0], [24.567, 0.0],
  [24.596, 0.018], [24.630, 0.038], [24.663, 0.018], [24.687, 0.001], [24.740, 0.0], [24.769, 0.013],
  [24.798, 0.011], [24.822, 0.0], [24.850, 0.001], [24.880, 0.013], [24.908, 0.001], [25.000, 0.0],
  [25.034, 0.046], [25.058, 0.038], [25.087, 0.047], [25.116, 0.018], [25.155, 0.0], [25.193, 0.023],
  [25.222, 0.047], [25.246, 0.050], [25.270, 0.033], [25.299, 0.005], [25.33, 0.0], [25.472, 0.0],
];

// ---------------- Axis ticks ----------------
const X_TICKS_1 = [12.4, 12.6, 12.8, 13.0, 13.2, 13.4, 13.6, 13.8];
const X_TICKS_2 = [14.0, 14.25, 14.5, 14.75, 15.0, 15.25, 15.5, 15.75];
const X_TICKS_3 = [15.8, 16.0, 16.2, 16.4, 16.6, 16.8, 17.0, 17.2, 17.4];
const X_TICKS_4 = [20.0, 20.5, 21.0, 21.5, 22.0, 22.5];
const X_TICKS_5 = [22.5, 23.0, 23.5, 24.0, 24.5, 25.0, 25.5];
const Y_TICKS_12 = [0.0, 0.1, 0.2, 0.3];
const Y_TICKS_3 = [-0.1, 0.0, 0.1, 0.2];
const Y_TICKS_45 = [-0.2, -0.1, 0.0, 0.1, 0.2];

// ---------------- Legend labels ----------------
type Seg = { t: string; sub?: boolean };
type LegendItem = { kind: "line" | "dash" | "patch"; comp?: string; label: Seg[] };
const LEGEND_1: LegendItem[] = [
  { kind: "line", label: [{ t: "Spitzer IRS" }] },
  { kind: "dash", label: [{ t: "Full model fit to MIRI (scaled)" }] },
  { kind: "patch", comp: "hot", label: [{ t: "Hot H" }, { t: "2", sub: true }, { t: "O \u00d7 2.0" }] },
];
const LEGEND_2: LegendItem[] = [
  { kind: "patch", comp: "hcn", label: [{ t: "HCN \u00d7 1.0" }] },
  { kind: "patch", comp: "co2", label: [{ t: "CO" }, { t: "2", sub: true }, { t: " \u00d7 3.5" }] },
  { kind: "patch", comp: "oh", label: [{ t: "OH \u00d7 2.1" }] },
];
const LEGEND_3: LegendItem[] = [
  { kind: "patch", comp: "cold", label: [{ t: "Cold H" }, { t: "2", sub: true }, { t: "O \u00d7 3.0" }] },
];

// ---------------- Styles / layout ----------------
const COMP_STYLE: Record<string, { fill: string; edge: string; order: number }> = {
  cold: { fill: "rgba(25,25,112,0.6)", edge: "rgba(25,25,112,0.6)", order: 7 },
  hot: { fill: "rgba(135,206,235,0.7)", edge: "rgba(135,206,235,0.8)", order: 6 },
  hcn: { fill: "rgba(220,20,60,0.7)", edge: "rgba(220,20,60,0.7)", order: 5 },
  co2: { fill: "rgba(255,69,0,0.7)", edge: "rgba(255,69,0,0.7)", order: 4 },
  oh: { fill: "rgba(255,0,255,0.7)", edge: "rgba(255,0,255,0.7)", order: 3 },
};
const PAGE_W = 3214;
const PAGE_H = 4057;
const PLOT_LEFT = 229;
const PLOT_RIGHT = 3134;
const PLOT_H = 662;
const PAD_TOP = 30;
const TICK_FONT = 44;
const YTITLE_FONT = 52;
const XTITLE_FONT = 62;
const LEGEND_FONT = 52;

type Pt = { x: number; y: number };
const grid = (start: number, step: number, vals: number[]): Pt[] =>
  vals.map((y, i) => ({ x: +(start + i * step).toFixed(5), y }));
const pairs = (arr: number[][]): Pt[] => arr.map(([x, y]) => ({ x, y }));
const errLookup = (x: number, segs: number[][]) => {
  for (const [upTo, e] of segs) if (x <= upTo) return e;
  return segs[segs.length - 1][1];
};

type PanelDef = {
  top: number; xMin: number; xMax: number; yMin: number; yMax: number;
  xTicks: number[]; yTicks: number[]; xDec: number;
  irs: Pt[]; errSegs: number[][]; model: Pt[];
  comps: { kind: string; pts: Pt[] }[];
  legend: LegendItem[]; legendLeft: number; yTitlePad: number; last: boolean;
};

const PANELS: PanelDef[] = [
  {
    top: 46, xMin: 12.3, xMax: 13.8, yMin: -0.05, yMax: 0.3, xTicks: X_TICKS_1, yTicks: Y_TICKS_12, xDec: 1,
    irs: grid(IRS1_START, IRS1_STEP, IRS1_FLUX), errSegs: ERR1,
    model: grid(MODEL1_START, MODEL1_STEP, MODEL1_FLUX),
    comps: [{ kind: "hot", pts: grid(MODEL1_START, MODEL1_STEP, HOT1_FLUX) }],
    legend: LEGEND_1, legendLeft: -950, yTitlePad: 66, last: false,
  },
  {
    top: 842, xMin: 13.8, xMax: 15.8, yMin: -0.05, yMax: 0.3, xTicks: X_TICKS_2, yTicks: Y_TICKS_12, xDec: 2,
    irs: grid(IRS2_START, IRS2_STEP, IRS2_FLUX), errSegs: ERR2, model: pairs(MODEL2),
    comps: [
      { kind: "hot", pts: pairs(HOT2) }, { kind: "hcn", pts: pairs(HCN2) },
      { kind: "co2", pts: pairs(CO2_2) }, { kind: "oh", pts: pairs(OH2) },
    ],
    legend: LEGEND_2, legendLeft: -463, yTitlePad: 66, last: false,
  },
  {
    top: 1637, xMin: 15.8, xMax: 17.5, yMin: -0.1, yMax: 0.2, xTicks: X_TICKS_3, yTicks: Y_TICKS_3, xDec: 1,
    irs: grid(IRS3_START, IRS3_STEP, IRS3_FLUX), errSegs: ERR3, model: pairs(MODEL3),
    comps: [{ kind: "cold", pts: pairs(COLD3) }, { kind: "hot", pts: pairs(HOT3) }, { kind: "oh", pts: pairs(OH3) }],
    legend: LEGEND_3, legendLeft: -586, yTitlePad: 46, last: false,
  },
  {
    top: 2434, xMin: 20.0, xMax: 22.5, yMin: -0.2, yMax: 0.2, xTicks: X_TICKS_4, yTicks: Y_TICKS_45, xDec: 1,
    irs: grid(IRS4_START, IRS4_STEP, IRS4_FLUX), errSegs: ERR4, model: pairs(MODEL4),
    comps: [{ kind: "cold", pts: pairs(COLD4) }, { kind: "hot", pts: pairs(HOT4) }, { kind: "oh", pts: pairs(OH4) }],
    legend: [], legendLeft: 0, yTitlePad: 46, last: false,
  },
  {
    top: 3231, xMin: 22.5, xMax: 25.5, yMin: -0.2, yMax: 0.2, xTicks: X_TICKS_5, yTicks: Y_TICKS_45, xDec: 1,
    irs: grid(IRS5_START, IRS5_STEP, IRS5_FLUX), errSegs: ERR5, model: pairs(MODEL5),
    comps: [{ kind: "cold", pts: pairs(COLD5) }, { kind: "hot", pts: pairs(HOT5) }, { kind: "oh", pts: pairs(OH5) }],
    legend: [], legendLeft: 0, yTitlePad: 46, last: true,
  },
];

const fmtY = (v: number) => {
  const s = Math.abs(v).toFixed(1);
  return v < -1e-9 ? "\u2212" + s : s;
};

function drawRich(ctx: CanvasRenderingContext2D, segs: Seg[], x: number, y: number, size: number) {
  let cx = x;
  for (const s of segs) {
    const fs = s.sub ? size * 0.7 : size;
    ctx.font = `${fs}px ${FONT}`;
    ctx.fillText(s.t, cx, s.sub ? y + size * 0.24 : y);
    cx += ctx.measureText(s.t).width;
  }
}

function PanelChart({ p }: { p: PanelDef }) {
  const ref = useRef<HTMLCanvasElement>(null);
  const axisH = p.last ? PAGE_H - (p.top - PAD_TOP) - PAD_TOP - PLOT_H : 90;
  const height = PAD_TOP + PLOT_H + axisH;

  useEffect(() => {
    const canvas = ref.current!;
    const errs = p.irs.map((pt) => errLookup(pt.x, p.errSegs));

    const errPlugin = {
      id: "errbars",
      beforeDatasetDraw(chart: any, args: any) {
        if (args.index !== 0) return;
        const { ctx, chartArea: a } = chart;
        const xs = chart.scales.x, ys = chart.scales.y;
        ctx.save();
        ctx.beginPath();
        ctx.rect(a.left, a.top, a.right - a.left, a.bottom - a.top);
        ctx.clip();
        ctx.strokeStyle = "#808080";
        ctx.lineWidth = 4;
        ctx.beginPath();
        p.irs.forEach((pt, i) => {
          const px = xs.getPixelForValue(pt.x);
          ctx.moveTo(px, ys.getPixelForValue(pt.y - errs[i]));
          ctx.lineTo(px, ys.getPixelForValue(pt.y + errs[i]));
        });
        ctx.stroke();
        ctx.restore();
      },
    };

    const framePlugin = {
      id: "frame",
      afterDatasetsDraw(chart: any) {
        const { ctx, chartArea: a } = chart;
        const xs = chart.scales.x, ys = chart.scales.y;
        const TL = 16;
        ctx.save();
        ctx.strokeStyle = "#000";
        ctx.lineWidth = 3;
        ctx.lineCap = "butt";
        ctx.strokeRect(a.left, a.top, a.right - a.left, a.bottom - a.top);
        ctx.beginPath();
        p.xTicks.forEach((v) => {
          const px = xs.getPixelForValue(v);
          ctx.moveTo(px, a.bottom); ctx.lineTo(px, a.bottom - TL);
          ctx.moveTo(px, a.top); ctx.lineTo(px, a.top + TL);
        });
        p.yTicks.forEach((v) => {
          const py = ys.getPixelForValue(v);
          ctx.moveTo(a.left, py); ctx.lineTo(a.left + TL, py);
          ctx.moveTo(a.right, py); ctx.lineTo(a.right - TL, py);
        });
        ctx.stroke();
        ctx.restore();
      },
    };

    const legendPlugin = {
      id: "panelLegend",
      afterDraw(chart: any) {
        if (!p.legend.length) return;
        const { ctx, chartArea: a } = chart;
        const x0 = a.right + p.legendLeft;
        const HW = 107;
        ctx.save();
        p.legend.forEach((it, k) => {
          const cy = a.top + 59 + k * 77;
          if (it.kind === "line") {
            ctx.strokeStyle = "#000"; ctx.lineWidth = 4.5; ctx.setLineDash([]);
            ctx.beginPath(); ctx.moveTo(x0, cy); ctx.lineTo(x0 + HW, cy); ctx.stroke();
          } else if (it.kind === "dash") {
            ctx.strokeStyle = "#008000"; ctx.lineWidth = 6; ctx.setLineDash([24, 11]);
            ctx.beginPath(); ctx.moveTo(x0, cy); ctx.lineTo(x0 + HW, cy); ctx.stroke();
            ctx.setLineDash([]);
          } else {
            const st = COMP_STYLE[it.comp!];
            ctx.fillStyle = st.fill;
            ctx.fillRect(x0, cy - 20, HW, 40);
            ctx.strokeStyle = st.edge; ctx.lineWidth = 3;
            ctx.strokeRect(x0, cy - 20, HW, 40);
          }
          ctx.fillStyle = "#000";
          ctx.textBaseline = "middle";
          ctx.textAlign = "left";
          drawRich(ctx, it.label, x0 + HW + 42, cy, LEGEND_FONT);
        });
        ctx.restore();
      },
    };

    const datasets: any[] = [
      {
        data: p.irs, borderColor: "#000", borderWidth: 4.5, fill: false, order: 1,
        borderJoinStyle: "round", pointRadius: 0, tension: 0,
      },
      {
        data: p.model, borderColor: "#008000", borderWidth: 6, borderDash: [24, 11], fill: false,
        order: 2, pointRadius: 0, tension: 0,
      },
    ];
    p.comps.forEach((c) => {
      const s = COMP_STYLE[c.kind];
      datasets.push({
        data: c.pts, fill: "origin", backgroundColor: s.fill, borderColor: s.edge, borderWidth: 3,
        order: s.order, pointRadius: 0, tension: 0,
      });
    });

    const chart = new Chart(canvas, {
      type: "line",
      data: { datasets },
      options: {
        responsive: false,
        animation: false,
        devicePixelRatio: 1,
        layout: { padding: { top: PAD_TOP, right: PAGE_W - PLOT_RIGHT, left: 0, bottom: 0 } },
        plugins: { legend: { display: false }, tooltip: { enabled: false } },
        elements: { point: { radius: 0 } },
        scales: {
          x: {
            type: "linear", min: p.xMin, max: p.xMax,
            grid: { display: false, drawTicks: false }, border: { display: false },
            afterBuildTicks: (s: any) => { s.ticks = p.xTicks.map((v) => ({ value: v })); },
            afterFit: (s: any) => { s.height = axisH; },
            ticks: {
              autoSkip: false, maxRotation: 0, minRotation: 0, padding: 14, color: "#000",
              font: { size: TICK_FONT, family: FONT },
              callback: (v: any) => Number(v).toFixed(p.xDec),
            },
            title: {
              display: p.last, text: "Wavelength (\u03bcm)", color: "#000",
              font: { size: XTITLE_FONT, family: FONT }, padding: { top: 0, bottom: 26 },
            },
          },
          y: {
            type: "linear", min: p.yMin, max: p.yMax,
            grid: { display: false, drawTicks: false }, border: { display: false },
            afterBuildTicks: (s: any) => { s.ticks = p.yTicks.map((v) => ({ value: v })); },
            afterFit: (s: any) => { s.width = PLOT_LEFT; },
            ticks: {
              padding: 15, color: "#000", font: { size: TICK_FONT, family: FONT },
              callback: (v: any) => fmtY(Number(v)),
            },
            title: {
              display: true, text: "Flux (Jy)", color: "#000",
              font: { size: YTITLE_FONT, family: FONT }, padding: { top: p.yTitlePad, bottom: 0 },
            },
          },
        },
      } as any,
      plugins: [errPlugin, framePlugin, legendPlugin],
    });
    return () => chart.destroy();
  }, []);

  return (
    <canvas
      ref={ref}
      width={PAGE_W}
      height={height}
      style={{ position: "absolute", left: 0, top: p.top - PAD_TOP, width: PAGE_W, height, display: "block" }}
    />
  );
}

export default function App() {
  useEffect(() => {
    document.body.style.margin = "0";
  }, []);
  return (
    <div style={{ position: "absolute", left: 0, top: 0, width: PAGE_W, height: PAGE_H, background: "#fff" }}>
      {PANELS.map((p, i) => (
        <PanelChart key={i} p={p} />
      ))}
    </div>
  );
}
